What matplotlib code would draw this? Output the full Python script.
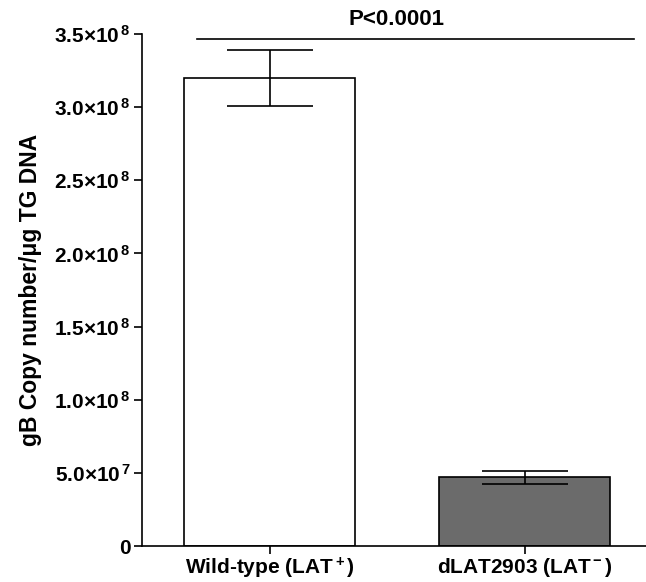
import matplotlib
matplotlib.use('Agg')
import matplotlib.pyplot as plt
from matplotlib.ticker import FixedLocator, FuncFormatter

plt.rcParams['font.family'] = ['Liberation Sans', 'DejaVu Sans']
plt.rcParams['font.weight'] = 'bold'
plt.rcParams['mathtext.fontset'] = 'custom'
plt.rcParams['mathtext.rm'] = 'Liberation Sans:bold'
plt.rcParams['mathtext.bf'] = 'Liberation Sans:bold'
plt.rcParams['mathtext.it'] = 'Liberation Sans:bold'

# data
groups = ['Wild-type (LAT$^+$)', 'dLAT2903 (LAT$^-$)']
means = [3.20e8, 4.70e7]
errors = [1.9e7, 4.5e6]
colors = ['#FFFFFF', '#6B6B6B']
yticks = [0, 5.0e7, 1.0e8, 1.5e8, 2.0e8, 2.5e8, 3.0e8, 3.5e8]
pval = 'P<0.0001'

W, H = 646, 582
fig = plt.figure(figsize=(W / 100, H / 100), dpi=100)
ax = fig.add_axes([142 / W, 36 / H, (W - 142) / W, 512 / H])

x = list(range(len(groups)))
lw = 1.2
ax.bar(x, means, width=0.67, color=colors, edgecolor='black', linewidth=lw, zorder=2)
ax.errorbar(x, means, yerr=errors, fmt='none', ecolor='black', elinewidth=lw,
            capsize=31, capthick=lw, zorder=3)

ax.set_xlim(-0.5, (W - 142) / 255 - 0.5)
ax.set_ylim(0, 3.5e8)

def fmt(v, pos):
    if v == 0:
        return '0'
    e = len(str(int(v))) - 1
    m = v / 10 ** e
    return r'$%.1f{\times}10^{\,%d}$' % (m, e)

ax.yaxis.set_major_locator(FixedLocator(yticks))
ax.yaxis.set_major_formatter(FuncFormatter(fmt))
ax.set_xticks(x)
ax.set_xticklabels(groups, fontsize=15, fontweight='bold')
ax.tick_params(axis='y', labelsize=15, length=6, width=lw, pad=2)
ax.tick_params(axis='x', length=6, width=lw, pad=1)

for s in ['top', 'right']:
    ax.spines[s].set_visible(False)
for s in ['left', 'bottom']:
    ax.spines[s].set_linewidth(lw)

ax.set_ylabel('gB Copy number/μg TG DNA', fontsize=16.5, fontweight='bold', labelpad=9)

# significance line
ybar = 3.466e8
ax.plot([-0.285, 1.43], [ybar, ybar], color='black', linewidth=lw, clip_on=False)
ax.text(0.5, ybar + 0.06e8, pval, ha='center', va='bottom', fontsize=16, fontweight='bold')

fig.savefig('out.png', dpi=100)
